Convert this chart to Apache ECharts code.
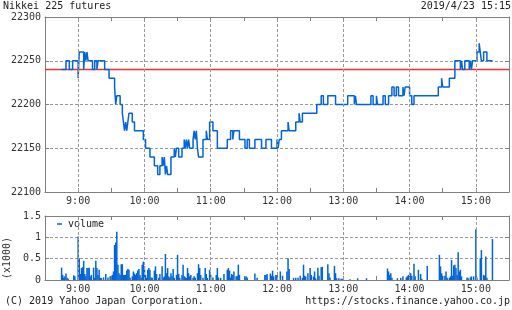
<!DOCTYPE html>
<html>
<head>
<meta charset="utf-8">
<script src="https://cdn.jsdelivr.net/npm/echarts@6/dist/echarts.min.js"></script>
<style>
html,body{margin:0;padding:0;background:#fff;}
#c{width:512px;height:310px;}
</style>
</head>
<body>
<div id="c"></div>
<script>
// ---- data ----
const openMinute = 8 * 60 + 45;            // 8:45 session open
const axisMin = 8 * 60 + 30;               // 8:30
const axisMax = 15 * 60 + 30;              // 15:30
const hourTicks = [9, 10, 11, 12, 13, 14, 15];
const prevClose = 22240;
const priceTicks = [22100, 22150, 22200, 22250, 22300];
const volTicks = [0, 0.5, 1, 1.5];

// minutes after 8:45 where the price changes, and the new price
const priceT = [0,4,7,10,15,16,20,21,22,23,24,28,30,32,33,39,43,48,49,50,53,55,56,57,58,59,60,61,64,66,74,76,80,84,87,89,91,92,93,94,95,96,99,102,103,104,106,109,111,112,113,114,115,116,119,120,121,122,123,124,128,131,132,134,137,141,150,153,155,156,161,166,168,170,175,181,185,190,195,196,197,199,205,206,212,215,216,218,231,235,237,241,248,259,265,266,267,280,282,285,286,291,293,296,299,301,303,305,309,310,311,315,317,319,341,344,345,351,356,361,362,363,365,369,370,371,372,376,378,379,380,382,385,390];
const priceV = [22240,22250,22240,22250,22230,22260,22240,22260,22250,22260,22250,22240,22250,22240,22250,22240,22230,22220,22200,22210,22200,22190,22180,22170,22180,22170,22180,22190,22180,22170,22160,22150,22140,22130,22120,22130,22140,22130,22140,22120,22130,22120,22140,22150,22140,22150,22140,22150,22160,22150,22160,22150,22160,22150,22160,22170,22160,22170,22150,22140,22160,22170,22160,22180,22170,22150,22160,22170,22160,22170,22160,22150,22160,22150,22160,22150,22160,22150,22160,22150,22160,22170,22180,22170,22180,22190,22180,22190,22200,22210,22200,22210,22200,22210,22200,22210,22200,22210,22200,22210,22200,22210,22200,22210,22220,22210,22220,22210,22220,22210,22220,22210,22200,22210,22220,22230,22220,22230,22250,22240,22250,22240,22250,22240,22250,22240,22250,22260,22270,22260,22250,22260,22250,22250];

// minutes after 8:45 and volume (x1000)
const volT = [0,1,2,3,4,5,6,11,12,15,16,17,18,19,20,21,22,23,24,25,26,27,29,30,31,32,33,34,35,36,38,40,42,44,46,47,48,49,50,51,52,53,54,55,56,57,58,59,60,61,62,64,65,66,67,68,69,70,71,72,73,74,75,76,77,78,79,80,81,82,84,85,86,88,89,91,92,93,94,95,96,97,98,99,100,101,102,104,105,106,107,109,110,111,112,113,114,115,116,117,119,120,121,123,124,125,126,128,130,131,132,134,135,137,140,141,142,144,147,150,151,152,153,154,155,156,158,159,160,161,166,167,168,175,177,184,185,186,189,190,191,192,194,195,198,200,204,205,206,210,212,214,216,218,219,220,221,223,225,226,228,229,230,232,233,235,236,241,242,243,247,248,249,251,253,254,261,268,276,295,296,297,298,299,304,307,309,312,313,314,315,316,317,319,320,323,325,326,331,342,343,344,345,347,348,349,351,352,353,354,355,356,357,358,359,360,361,362,367,368,370,371,373,375,376,379,380,382,383,384,385,390];
const volV = [0.29,0.12,0.06,0.085,0.15,0.05,0.03,0.11,0.085,1.02,0.51,0.14,0.28,0.30,0.45,0.14,0.085,0.28,0.28,0.29,0.085,0.12,0.29,0.05,0.45,0.28,0.12,0.24,0.05,0.05,0.06,0.14,0.06,0.085,0.12,0.2,0.82,0.88,1.13,0.36,0.16,0.12,0.37,0.37,0.12,0.12,0.12,0.22,0.26,0.24,0.05,0.085,0.2,0.15,0.12,0.16,0.22,0.26,0.12,0.05,0.36,0.43,0.32,0.12,0.05,0.24,0.28,0.24,0.06,0.05,0.22,0.32,0.14,0.05,0.14,0.32,0.05,0.085,0.61,0.16,0.28,0.085,0.05,0.16,0.085,0.26,0.05,0.12,0.59,0.14,0.05,0.12,0.36,0.085,0.06,0.05,0.28,0.16,0.085,0.12,0.05,0.085,0.05,0.16,0.37,0.28,0.12,0.05,0.28,0.14,0.05,0.24,0.12,0.06,0.12,0.28,0.06,0.05,0.14,0.24,0.28,0.22,0.06,0.14,0.12,0.2,0.085,0.1,0.36,0.12,0.06,0.085,0.06,0.15,0.05,0.12,0.12,0.14,0.15,0.1,0.22,0.085,0.12,0.12,0.2,0.1,0.2,0.51,0.26,0.05,0.05,0.05,0.1,0.05,0.36,0.1,0.08,0.16,0.28,0.12,0.08,0.2,0.04,0.29,0.1,0.3,0.31,0.37,0.16,0.06,0.33,0.16,0.04,0.04,0.03,0.03,0.02,0.04,0.04,0.27,0.2,0.12,0.16,0.05,0.04,0.05,0.085,0.06,0.09,0.12,0.085,0.16,0.1,0.38,0.085,0.24,0.14,0.03,0.33,0.59,0.32,0.16,0.1,0.1,0.2,0.05,0.05,0.085,0.47,0.1,0.34,0.36,0.28,0.12,0.65,0.2,0.24,0.085,0.06,0.04,0.06,0.085,0.085,1.19,0.06,0.51,0.7,0.12,0.1,0.55,0.05,0.96];

// ---- chart ----
const FONT = 'DejaVu Sans Mono';
const TXT = '#333';
const AX = '#808080';
const BLUE = '#0064dc';
const RED = '#f03030';
const dashed = { color: '#999', type: [3, 2], width: 1 };

const priceData = priceT.map((t, i) => [openMinute + t, priceV[i]]);
const volData = volT.map((t, i) => [openMinute + t, volV[i]]);
const hourLines = hourTicks.map(h => ({ xAxis: h * 60 }));

function xAx(grid, pos, labels) {
  return {
    gridIndex: grid, type: 'value', position: pos, min: axisMin, max: axisMax, interval: 30,
    axisLine: { show: true, onZero: false, lineStyle: { color: AX, width: 1 } },
    axisTick: { show: true, inside: true, length: 4, lineStyle: { color: AX } },
    axisLabel: labels ? {
      show: true, margin: 4, color: TXT, fontFamily: FONT, fontSize: 10,
      formatter: v => (v % 60 === 0 ? (v / 60) + ':00' : '')
    } : { show: false },
    splitLine: { show: false }
  };
}
function yAx(grid, pos, min, max, step, labels) {
  return {
    gridIndex: grid, type: 'value', position: pos, min: min, max: max, interval: step,
    axisLine: { show: true, onZero: false, lineStyle: { color: AX, width: 1 } },
    axisTick: { show: true, inside: true, length: 4, lineStyle: { color: AX } },
    axisLabel: labels ? { show: true, margin: 4, color: TXT, fontFamily: FONT, fontSize: 10, formatter: v => String(v) } : { show: false },
    splitLine: labels ? { show: true, lineStyle: dashed } : { show: false }
  };
}

const chart = echarts.init(document.getElementById('c'), null, { renderer: 'canvas' });
chart.setOption({
  animation: false,
  backgroundColor: '#fff',
  grid: [
    { left: 45, top: 17, width: 466, height: 175 },
    { left: 45, top: 216, width: 466, height: 64 }
  ],
  xAxis: [xAx(0, 'bottom', true), xAx(0, 'top', false), xAx(1, 'bottom', true), xAx(1, 'top', false)],
  yAxis: [
    yAx(0, 'left', priceTicks[0], priceTicks[priceTicks.length - 1], 50, true),
    yAx(0, 'right', priceTicks[0], priceTicks[priceTicks.length - 1], 50, false),
    yAx(1, 'left', volTicks[0], volTicks[volTicks.length - 1], 0.5, true),
    yAx(1, 'right', volTicks[0], volTicks[volTicks.length - 1], 0.5, false)
  ],
  legend: {
    data: ['volume'], left: 57, top: 219, padding: 0, icon: 'rect', itemWidth: 5, itemHeight: 1.5,
    textStyle: { fontFamily: FONT, fontSize: 10, color: '#222', padding: [0, 0, 0, 1] },
    selectedMode: false
  },
  series: [
    {
      type: 'line', xAxisIndex: 0, yAxisIndex: 0, data: [], z: 1, silent: true,
      markLine: {
        silent: true, symbol: 'none', label: { show: false }, animation: false,
        lineStyle: dashed,
        data: hourLines
      }
    },
    {
      type: 'line', name: 'prevClose', xAxisIndex: 0, yAxisIndex: 0, z: 2, silent: true,
      data: [[axisMin, prevClose], [axisMax, prevClose]],
      showSymbol: false, symbol: 'none',
      lineStyle: { color: RED, width: 1.4, type: 'solid' }
    },
    {
      type: 'line', name: 'price', xAxisIndex: 0, yAxisIndex: 0, data: priceData, step: 'end',
      showSymbol: false, symbol: 'none', z: 3,
      lineStyle: { color: BLUE, width: 1.5 }
    },
    {
      type: 'line', xAxisIndex: 2, yAxisIndex: 2, data: [], z: 1, silent: true,
      markLine: {
        silent: true, symbol: 'none', label: { show: false }, animation: false,
        lineStyle: dashed,
        data: hourLines
      }
    },
    {
      type: 'bar', name: 'volume', xAxisIndex: 2, yAxisIndex: 2, data: volData, barWidth: 1.5,
      itemStyle: { color: BLUE }, z: 3
    }
  ],
  graphic: [
    { type: 'text', left: 3, top: 1, style: { text: 'Nikkei 225 futures', fill: '#222', font: '10px "DejaVu Sans Mono"' } },
    { type: 'text', right: 1, top: 1, style: { text: '2019/4/23 15:15', fill: '#222', font: '10px "DejaVu Sans Mono"' } },
    { type: 'text', left: 5, top: 296, style: { text: '(C) 2019 Yahoo Japan Corporation.', fill: '#222', font: '10px "DejaVu Sans Mono"' } },
    { type: 'text', right: 2, top: 296, style: { text: 'https://stocks.finance.yahoo.co.jp', fill: '#222', font: '10px "DejaVu Sans Mono"' } },
    { type: 'text', x: 2, y: 279, rotation: Math.PI / 2, style: { text: '(x1000)', fill: TXT, font: '10px "DejaVu Sans Mono"' } }
  ]
});
</script>
</body>
</html>
